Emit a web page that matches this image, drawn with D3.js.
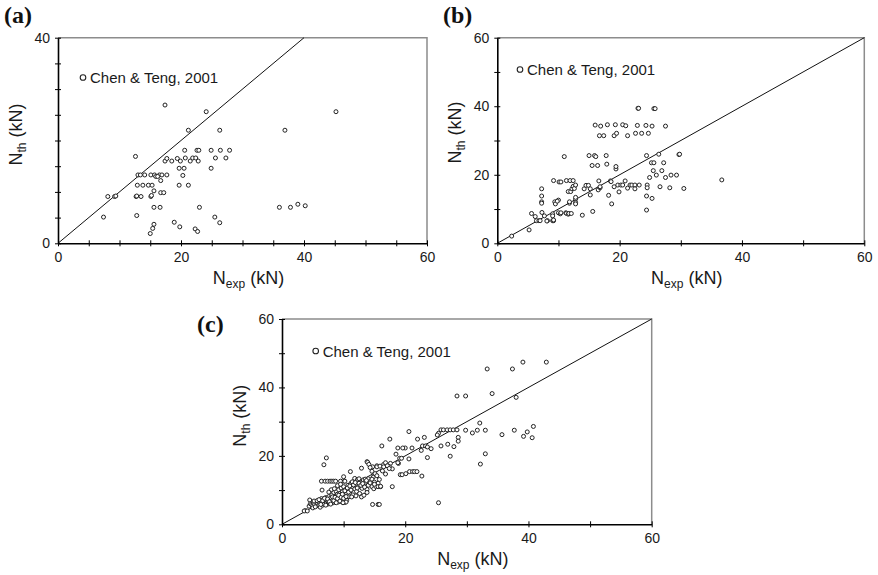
<!DOCTYPE html>
<html>
<head>
<meta charset="utf-8">
<script src="https://cdn.jsdelivr.net/npm/d3@7"></script>
<style>
  body { margin: 0; background: #fff; }
  svg { display: block; font-family: Arial, "Liberation Sans", sans-serif; }
</style>
</head>
<body>
<svg id="chart" width="878" height="575"></svg>
<script>
// Valeurs : [N_exp, N_th] en kN
const legendLabel = 'Chen & Teng, 2001';
const panelLetters = ['(a)', '(b)', '(c)'];

// Etiquettes des axes
const xLabelsA = [0, 20, 40, 60];
const yLabelsA = [0, 40];
const xLabelsB = [0, 20, 40, 60];
const yLabelsB = [0, 20, 40, 60];
const xLabelsC = [0, 20, 40, 60];
const yLabelsC = [0, 20, 40, 60];

// Panneau (a)
const dataA = [
  [17.4, 26.9], [24.1, 25.6], [45.2, 25.6], [21.2, 22.0], [26.3, 22.0], [36.9, 22.0], [12.6, 16.9],
  [20.6, 18.1], [22.6, 18.1], [22.9, 18.1], [24.9, 18.1], [26.4, 18.1], [27.9, 18.1],
  [17.4, 16.0], [17.7, 16.5], [18.5, 16.0], [19.4, 16.5], [19.9, 16.0], [20.7, 16.6], [21.5, 16.0],
  [21.9, 16.6], [22.4, 16.6], [22.8, 16.0], [25.6, 16.6], [27.3, 16.6],
  [19.7, 14.6], [20.5, 14.6], [24.9, 14.6], [20.3, 13.2],
  [13.0, 13.3], [13.4, 13.3], [14.1, 13.3], [15.1, 13.3], [15.7, 13.3], [16.5, 13.3], [16.9, 13.3],
  [17.7, 13.3], [15.9, 13.0], [16.2, 13.0], [16.7, 12.2],
  [12.9, 11.3], [13.8, 11.3], [14.7, 11.3], [15.3, 11.3], [19.7, 11.3], [21.2, 11.3],
  [15.6, 10.2], [16.7, 9.85], [17.2, 9.85],
  [8.1, 9.1], [9.2, 9.1], [9.4, 9.2], [12.7, 9.1], [12.8, 9.2], [13.5, 9.1], [15.1, 9.1], [15.2, 9.3],
  [7.4, 5.1], [12.8, 5.4], [15.6, 7.0], [16.6, 7.0], [23.0, 7.0],
  [15.6, 3.7], [15.4, 2.9], [15.0, 1.9], [18.9, 4.1], [19.8, 3.2], [22.3, 2.8], [22.7, 2.3],
  [25.5, 5.1], [26.3, 4.0],
  [36.0, 7.0], [37.8, 7.0], [39.0, 7.6], [40.2, 7.3]
];

// Panneau (b)
const dataB = [
  [2.35, 2.1], [5.2, 3.9], [5.6, 8.7], [6.2, 7.8], [6.4, 6.6], [6.8, 6.6], [7.0, 6.6],
  [7.25, 15.9], [7.25, 13.8], [7.25, 12.1], [7.25, 11.7], [7.3, 9.0], [7.7, 8.0], [8.2, 6.6], [8.1, 6.5],
  [9.05, 8.6], [9.05, 8.0], [9.05, 6.6], [9.2, 6.6], [9.2, 6.8], [9.2, 18.3], [9.4, 12.1], [9.5, 11.5],
  [10.0, 12.6], [9.8, 12.3], [10.1, 17.9], [10.4, 17.9], [10.0, 8.9], [10.3, 8.6], [10.4, 8.9],
  [10.95, 25.3], [11.2, 8.9], [11.3, 8.75], [11.6, 8.5], [11.3, 18.3], [11.9, 18.3], [12.4, 18.3],
  [11.6, 15.1], [12.0, 15.1], [11.7, 8.7], [12.1, 8.7], [11.8, 11.7], [11.8, 12.1], [12.2, 15.9],
  [12.4, 16.6], [12.6, 16.0], [12.8, 12.9], [12.8, 13.4], [12.8, 11.9], [12.8, 11.5], [12.8, 17.0],
  [13.9, 8.2], [14.2, 15.9], [14.5, 16.9], [14.9, 16.9], [15.2, 15.9], [15.0, 25.6], [15.6, 9.3],
  [15.2, 14.1], [15.5, 22.7], [16.4, 22.7], [15.9, 25.6], [16.1, 25.3], [16.6, 18.2], [16.5, 15.6],
  [16.8, 16.2], [16.8, 16.5], [16.0, 34.5], [16.9, 34.2], [16.7, 31.4], [17.4, 31.4], [17.8, 25.6],
  [17.9, 23.1], [18.0, 34.6], [18.2, 14.0], [18.7, 11.5], [18.5, 18.2], [18.6, 18.0], [19.1, 16.5],
  [19.3, 34.6], [19.1, 31.4], [19.5, 32.1], [19.4, 21.7], [19.4, 22.4], [19.9, 15.0], [19.7, 17.0],
  [20.2, 17.0], [20.5, 17.0], [20.9, 18.2], [20.5, 34.6], [21.0, 34.3], [21.3, 31.4], [21.3, 16.1],
  [21.7, 17.0], [22.0, 17.0], [22.5, 17.0], [22.5, 15.9], [22.9, 34.4], [23.2, 17.0],
  [23.0, 39.4], [23.1, 39.4], [25.6, 39.3], [25.8, 39.3], [24.3, 34.4], [25.3, 34.2], [27.5, 34.2],
  [24.7, 32.1], [23.6, 32.1], [22.6, 32.1], [29.7, 25.9], [29.8, 26.0], [24.4, 25.6], [26.4, 26.0],
  [25.2, 23.5], [25.6, 23.5], [27.2, 23.5], [25.5, 21.2], [26.9, 21.2], [24.9, 19.2], [26.0, 19.9],
  [27.5, 19.2], [28.4, 19.9], [29.3, 19.9], [36.7, 18.5], [24.5, 17.0], [24.5, 16.2], [26.6, 16.5],
  [28.2, 16.2], [30.5, 16.0], [24.4, 13.8], [25.3, 13.1], [24.4, 9.7]
];

// Panneau (c)
const dataC = [
  [39.1, 47.4], [42.9, 47.4], [37.4, 45.4], [33.3, 45.4], [34.1, 38.2], [28.4, 37.5], [29.8, 37.5],
  [38.0, 37.1], [35.7, 26.2], [37.7, 27.5], [39.2, 25.7], [39.8, 27.0], [40.6, 25.3], [40.8, 28.6],
  [33.0, 27.5], [32.1, 29.6], [31.7, 27.5], [30.9, 26.7], [29.8, 27.5],
  [25.8, 27.6], [26.2, 27.6], [26.8, 27.6], [27.3, 27.6], [27.8, 27.6], [28.4, 27.6], [28.6, 25.4],
  [28.6, 24.3], [27.9, 22.7], [27.3, 19.9], [26.9, 23.4], [25.8, 22.9], [25.4, 26.6], [25.2, 26.1],
  [33.0, 20.6], [32.2, 17.6], [20.6, 27.1], [22.0, 24.9], [23.1, 25.4], [20.0, 22.3], [21.1, 22.3],
  [22.6, 21.6], [22.8, 22.9], [23.3, 22.9], [23.6, 22.6], [24.2, 22.1], [20.6, 19.1], [23.6, 19.5],
  [19.1, 19.3], [18.9, 17.8], [19.4, 19.3],
  [16.2, 22.9], [17.5, 24.9], [18.5, 20.5], [18.8, 22.3], [19.6, 22.3], [19.2, 14.5], [19.5, 14.5],
  [20.1, 14.8], [20.7, 15.4], [21.2, 15.4], [21.5, 15.4], [21.9, 15.4], [22.7, 14.1], [17.9, 11.0],
  [14.7, 5.8], [15.6, 5.8], [15.8, 5.8], [25.4, 6.3],
  [7.2, 19.4], [6.8, 17.4],
  [6.4, 12.6], [7.0, 12.6], [7.4, 12.6], [7.8, 12.6], [8.1, 12.6], [8.4, 12.6], [8.7, 12.6],
  [9.5, 12.6], [10.1, 12.6], [10.2, 12.6], [10.0, 13.9], [11.1, 15.4], [12.9, 16.4], [13.8, 18.3],
  [13.9, 18.1], [14.7, 16.8], [15.4, 17.1], [16.5, 17.5], [16.8, 18.0], [17.6, 17.8], [17.4, 16.9],
  [17.9, 16.2], [18.8, 18.0], [6.5, 10.0], [4.5, 7.1], [3.8, 4.0], [3.6, 3.9], [4.1, 3.9],
  [4.4, 5.3], [4.6, 6.0], [4.8, 5.8], [5.0, 5.5], [5.0, 4.8], [5.1, 6.2], [5.3, 5.9], [5.5, 6.6],
  [5.6, 5.4], [5.8, 6.1], [5.9, 7.0], [6.0, 5.6], [6.1, 6.4], [6.2, 5.0], [6.3, 6.8], [6.4, 7.5],
  [6.5, 6.0], [6.6, 5.6], [6.7, 7.2], [6.8, 6.4], [6.9, 5.9], [7.0, 6.8], [7.1, 7.8], [7.2, 6.2],
  [7.3, 7.0], [7.4, 5.9], [7.5, 6.6], [7.6, 8.1], [7.7, 7.3], [7.8, 6.2], [7.9, 7.7], [8.0, 6.6],
  [8.1, 8.6], [8.2, 7.0], [8.3, 6.3], [8.4, 9.3], [8.5, 7.6], [8.6, 6.6], [8.7, 8.2], [8.8, 9.6],
  [8.9, 7.1], [9.0, 8.8], [9.1, 6.5], [9.2, 10.1], [9.3, 7.6], [9.4, 9.0], [9.5, 8.1], [9.6, 10.6],
  [9.7, 6.6], [9.8, 9.5], [9.9, 7.3], [10.0, 11.0], [10.1, 8.6], [10.2, 6.4], [10.3, 10.1],
  [10.4, 9.3], [10.5, 7.0], [10.7, 11.4], [10.9, 10.4], [10.9, 8.1], [11.0, 9.1], [11.2, 12.0],
  [11.4, 11.0], [11.5, 8.6], [11.7, 12.6], [11.8, 10.3], [11.8, 13.4], [12.0, 11.6], [12.1, 9.6],
  [12.2, 12.9], [12.3, 13.0], [12.4, 11.0], [12.5, 13.3], [12.6, 9.0], [12.7, 12.2], [12.8, 12.4],
  [12.9, 8.0], [13.0, 10.5], [13.1, 12.7], [13.2, 13.0], [13.3, 8.5], [13.4, 11.6], [13.5, 13.2],
  [13.6, 12.3], [13.8, 10.2], [13.8, 9.3], [14.0, 13.3], [14.1, 17.5], [14.2, 11.8], [14.3, 16.6],
  [14.4, 12.6], [14.6, 11.0], [14.6, 15.5], [14.8, 13.8], [14.9, 10.4], [15.0, 12.3], [15.1, 14.8],
  [15.2, 11.1], [15.4, 14.2], [15.4, 16.8], [15.6, 12.0], [15.6, 11.0], [15.8, 13.1], [15.9, 17.0],
  [16.0, 11.0], [16.0, 11.1], [16.3, 15.6], [16.5, 16.8], [16.8, 14.7], [17.1, 17.1], [17.4, 16.3],
  // amas dense en bas à gauche
  [5.2, 6.8], [5.4, 5.1], [5.7, 6.9], [6.0, 7.2], [6.3, 5.8], [6.6, 6.9], [6.9, 7.6], [7.1, 5.6],
  [7.4, 7.4], [7.7, 6.6], [7.9, 5.9], [8.2, 8.0], [8.4, 6.9], [8.6, 7.9], [8.8, 6.3], [9.0, 7.5],
  [9.2, 8.5], [9.4, 6.8], [9.6, 7.9], [9.8, 8.8], [10.0, 7.6], [10.2, 9.8], [10.4, 8.1], [10.6, 10.6],
  [10.8, 9.4], [11.0, 11.2], [11.2, 10.0], [11.4, 12.4], [11.6, 11.5], [11.9, 12.2], [12.2, 10.6],
  [12.5, 12.0], [12.8, 11.4], [13.1, 11.9], [13.4, 10.9], [13.7, 12.8], [14.0, 11.4], [14.3, 12.1],
  [14.6, 13.2], [15.0, 11.7], [8.0, 10.1], [8.5, 10.4], [9.0, 11.3], [9.5, 11.7], [7.6, 9.4],
  [10.4, 6.5], [9.9, 6.3], [11.3, 8.0], [12.0, 8.3]
];

// Mise en page des trois panneaux (pixels)
const panels = [
  { letter: panelLetters[0], data: dataA, xMax: 60, yMax: 40, xStep: 5, yStep: 5,
    xLabels: xLabelsA, yLabels: yLabelsA,
    left: 58, right: 427, top: 37.7, bottom: 243.3,
    letterAt: [4, 23], legendAt: [83, 77.5], xTitleDy: 41, yTitleDx: 36, yTitleShift: -6 },
  { letter: panelLetters[1], data: dataB, xMax: 60, yMax: 60, xStep: 10, yStep: 10,
    xLabels: xLabelsB, yLabels: yLabelsB,
    left: 497.3, right: 864.3, top: 37.7, bottom: 243.3,
    letterAt: [443, 23], legendAt: [520, 69.5], xTitleDy: 41, yTitleDx: 36, yTitleShift: -8 },
  { letter: panelLetters[2], data: dataC, xMax: 60, yMax: 60, xStep: 10, yStep: 10,
    xLabels: xLabelsC, yLabels: yLabelsC,
    left: 282, right: 651.7, top: 319, bottom: 524.3,
    letterAt: [197, 332], legendAt: [315.7, 351], xTitleDy: 41, yTitleDx: 36, yTitleShift: -6 }
];

const svg = d3.select('#chart');

function styleAxis(g) {
  g.attr('font-size', 14)
    .attr('font-family', 'Arial, "Liberation Sans", sans-serif');
  g.select('.domain').attr('stroke', '#000').attr('stroke-width', 1.6);
  g.selectAll('.tick line').attr('stroke', '#000').attr('stroke-width', 1);
  g.selectAll('.tick text').attr('fill', '#1a1a1a');
}

function drawPanel(p) {
  const g = svg.append('g');

  const x = d3.scaleLinear().domain([0, p.xMax]).range([p.left, p.right]);
  const y = d3.scaleLinear().domain([0, p.yMax]).range([p.bottom, p.top]);

  // Cadre haut et droit (gris)
  g.append('path')
    .attr('d', `M${x(0)},${y(p.yMax)}H${x(p.xMax)}V${y(0)}`)
    .attr('fill', 'none')
    .attr('stroke', '#8c8c8c')
    .attr('stroke-width', 1.5);

  // Droite N_th = N_exp
  const m = Math.min(p.xMax, p.yMax);
  g.append('line')
    .attr('x1', x(0)).attr('y1', y(0))
    .attr('x2', x(m)).attr('y2', y(m))
    .attr('stroke', '#111')
    .attr('stroke-width', 1);

  // Axe horizontal (graduations traversantes)
  g.append('g')
    .attr('transform', `translate(0, ${y(0)})`)
    .call(d3.axisBottom(x)
      .tickValues(d3.range(0, p.xMax + 0.001, p.xStep))
      .tickSize(3).tickSizeOuter(0).tickPadding(6)
      .tickFormat(d => p.xLabels.includes(d) ? d : ''))
    .call(styleAxis)
    .call(a => a.selectAll('.tick line').attr('y1', -3));

  // Axe vertical
  g.append('g')
    .attr('transform', `translate(${x(0)}, 0)`)
    .call(d3.axisLeft(y)
      .tickValues(d3.range(0, p.yMax + 0.001, p.yStep))
      .tickSize(3).tickSizeOuter(0).tickPadding(5)
      .tickFormat(d => p.yLabels.includes(d) ? d : ''))
    .call(styleAxis)
    .call(a => a.selectAll('.tick line').attr('x1', 3));

  // Points
  g.append('g')
    .selectAll('circle')
    .data(p.data)
    .join('circle')
      .attr('cx', d => x(d[0]))
      .attr('cy', d => y(d[1]))
      .attr('r', 2)
      .attr('fill', '#fff')
      .attr('stroke', '#222')
      .attr('stroke-width', 1);

  // Légende
  g.append('circle')
    .attr('cx', p.legendAt[0]).attr('cy', p.legendAt[1])
    .attr('r', 2.8)
    .attr('fill', '#fff').attr('stroke', '#222').attr('stroke-width', 1.1);
  g.append('text')
    .attr('x', p.legendAt[0] + 7).attr('y', p.legendAt[1] + 5.5)
    .attr('font-size', 15)
    .attr('fill', '#1a1a1a')
    .text(legendLabel);

  // Titre axe horizontal : N_exp (kN)
  const xt = g.append('text')
    .attr('x', (p.left + p.right) / 2 + 6)
    .attr('y', p.bottom + p.xTitleDy)
    .attr('text-anchor', 'middle')
    .attr('font-size', 18)
    .attr('fill', '#1a1a1a');
  xt.append('tspan').text('N');
  xt.append('tspan').attr('font-size', 12).attr('dy', 4).text('exp');
  xt.append('tspan').attr('dy', -4).text(' (kN)');

  // Titre axe vertical : N_th (kN)
  const yt = g.append('text')
    .attr('transform', `translate(${p.left - p.yTitleDx}, ${(p.top + p.bottom) / 2 + p.yTitleShift}) rotate(-90)`)
    .attr('text-anchor', 'middle')
    .attr('font-size', 18)
    .attr('fill', '#1a1a1a');
  yt.append('tspan').text('N');
  yt.append('tspan').attr('font-size', 12).attr('dy', 4).text('th');
  yt.append('tspan').attr('dy', -4).text(' (kN)');

  // Lettre du panneau
  g.append('text')
    .attr('x', p.letterAt[0]).attr('y', p.letterAt[1])
    .attr('font-family', '"Liberation Serif", "Times New Roman", serif')
    .attr('font-weight', 'bold')
    .attr('font-size', 24)
    .attr('fill', '#111')
    .text(p.letter);
}

panels.forEach(drawPanel);
</script>
</body>
</html>
